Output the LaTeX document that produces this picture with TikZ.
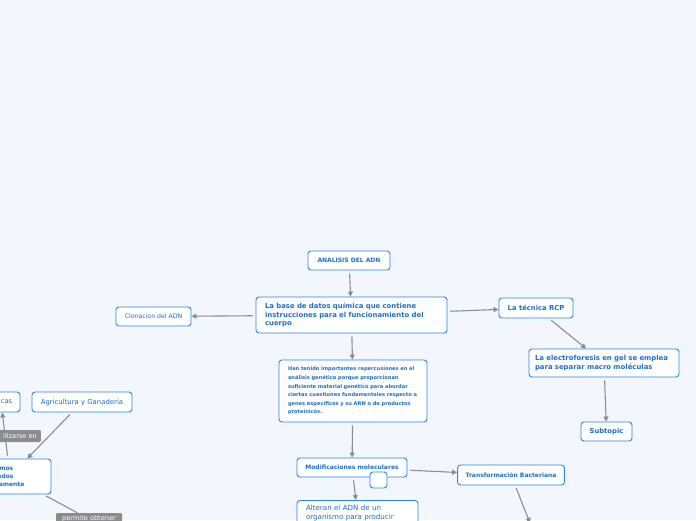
\documentclass[tikz,border=0pt]{standalone}
\usepackage{fontspec}
\setmainfont{DejaVu Sans}
\usetikzlibrary{arrows.meta}
\definecolor{bgblue}{HTML}{F3F6FD}
\definecolor{boxblue}{HTML}{2A86E6}
\definecolor{txtblue}{HTML}{1E6FC8}
\definecolor{linkgray}{HTML}{8A8D94}
\definecolor{lblgray}{HTML}{8C8C8C}

\begin{document}
\begin{tikzpicture}[x=1pt, y=-1pt,
  topic/.style={draw=boxblue, fill=white, rounded corners=3pt, line width=0.9pt,
    text=txtblue, inner xsep=8pt, inner ysep=2pt,
    font=\fontsize{6.8}{8.5}\selectfont\bfseries},
  smalltopic/.style={topic, font=\fontsize{6}{8}\selectfont\bfseries},
  subtopic/.style={topic, font=\fontsize{6.6}{8.5}\selectfont},
  link/.style={draw=linkgray, line width=1.1pt, shorten <=3pt,
    -{Triangle[length=5pt,width=5pt]}},
  linklabel/.style={fill=lblgray, text=white, rounded corners=1pt,
    font=\fontsize{6.6}{8}\selectfont, inner xsep=4pt, inner ysep=2pt, minimum height=12pt}]
%
\useasboundingbox (0,0) rectangle (696,520);
\fill[bgblue] (0,0) rectangle (696,520);
\clip (0,0) rectangle (696,520);
%
% --- Central topic and main branch ---
\node[smalltopic, minimum width=82, minimum height=19] (adn) at (349,260.5) {ANALISIS DEL ADN};
\node[topic, text width=173, align=left, inner xsep=9, minimum height=36,
  font=\fontsize{6.9}{8.5}\selectfont\bfseries] (base) at (351.5,315)
  {La base de datos química que contiene\\instrucciones para el funcionamiento del\\cuerpo};
\node[subtopic, font=\fontsize{6.2}{8}\selectfont, minimum width=75, minimum height=19]
  (clon) at (153.5,316.5) {Clonacion del ADN};
%
% --- Right branch (RCP) ---
\node[topic, minimum width=74, minimum height=20] (rcp) at (536,308) {La técnica RCP};
\node[topic, text width=138, align=left, inner xsep=6, minimum height=28,
  font=\fontsize{6.9}{9}\selectfont\bfseries] (gel) at (604,363)
  {La electroforesis en gel se emplea\\para separar macro moléculas};
\node[topic, minimum width=51, minimum height=19] (sub) at (606.5,431.5) {Subtopic};
%
% --- Middle branch ---
\node[topic, text width=130, align=left, inner xsep=9, minimum height=62,
  font=\fontsize{5.1}{8.6}\selectfont\bfseries] (rep) at (353,391)
  {Han tenido importantes repercusiones en el\\análisis genético porque proporcionan\\suficiente material genético para abordar\\ciertas cuestiones fundamentales respecto a\\genes específicos y su ARN o de productos\\proteínicos.};
\node[smalltopic, minimum width=110, minimum height=19] (mod) at (352,467.5) {Modificaciones moleculares};
\node[smalltopic, minimum width=17, minimum height=16] (box) at (378.5,480) {};
\node[smalltopic, minimum width=106, minimum height=20] (trans) at (511,475) {Transformación Bacteriana};
\node[subtopic, anchor=north, text width=103, align=left, inner xsep=9, inner ysep=5,
  font=\fontsize{7.1}{9}\selectfont] (alt) at (357.5,500)
  {Alteran el ADN de un\\organismo para producir\\};
\coordinate (tnext) at (530,523);
%
% --- Left branch ---
\node[subtopic, font=\fontsize{6.9}{8.5}\selectfont, minimum width=100, minimum height=20]
  (agri) at (82,402) {Agricultura y Ganadería};
\node[subtopic, text width=22, align=right, inner xsep=8, minimum height=20] (farm) at (1,402) {cas};
\node[smalltopic, minimum width=82, minimum height=35, text width=74, align=left, inner xsep=4]
  (ogm) at (10,476.5) {Organismos\\Modificados\\Genéticamente};
%
% --- Edges ---
\draw[link] (adn) -- (base);
\draw[link] (base) -- (clon);
\draw[link] (base) -- (rcp);
\draw[link] (rcp) -- (gel);
\draw[link] (gel) -- (sub);
\draw[link] (base) -- (rep);
\draw[link] (rep) -- (mod);
\draw[link] (mod) -- (trans);
\draw[link] (mod) -- (alt);
\draw[link] (trans) -- (tnext);
\draw[link] (agri) -- (ogm);
\draw[link] (ogm) -- (farm);
%
% --- Edge labels ---
\node[linklabel, anchor=east] (usar) at (41,436) {ilizarse en};
\node[linklabel, minimum width=66] (obt) at (89,519) {permite obtener};
\draw[draw=linkgray, line width=1.1pt, shorten <=3pt] (ogm) -- (obt);
%
\end{tikzpicture}
\end{document}
